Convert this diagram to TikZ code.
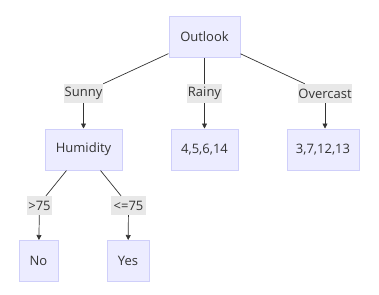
\documentclass[tikz,border=0pt]{standalone}
\usepackage{fontspec}
\setmainfont{Open Sans}
\usetikzlibrary{arrows.meta}
\definecolor{nodefill}{HTML}{ECECFF}
\definecolor{nodeline}{HTML}{CFCFFA}
\definecolor{lblfill}{HTML}{E8E8E8}
\definecolor{txt}{HTML}{333333}
\begin{document}
\begin{tikzpicture}[x=1pt,y=-1pt,
  box/.style={draw=nodeline, fill=nodefill, line width=1pt, text=txt,
    font=\fontsize{13}{15}\selectfont, inner sep=0pt, minimum height=41pt},
  lbl/.style={fill=lblfill, text=txt, font=\fontsize{13}{15}\selectfont,
    inner sep=0pt, minimum height=19pt},
  edge/.style={draw=txt, line width=0.7pt},
  arr/.style={edge, -{Triangle[length=5pt,width=5pt]}}]
\useasboundingbox (0,0) rectangle (379,294);
\node[box, minimum width=71pt] (outlook) at (204.5,37) {Outlook};
\node[box, minimum width=77pt] (hum) at (83.5,149.5) {Humidity};
\node[box, minimum width=67pt] (rainybox) at (204.5,149.5) {4,5,6,14};
\node[box, minimum width=72pt] (overbox) at (323,149.5) {3,7,12,13};
\node[box, minimum width=39pt] (no) at (38.5,261) {No};
\node[box, minimum width=42pt] (yes) at (128,261) {Yes};
\node[lbl, minimum width=39pt] (sunny) at (83.5,93.5) {Sunny};
\node[lbl, minimum width=35pt] (rainy) at (204.5,93.5) {Rainy};
\node[lbl, minimum width=54pt] (overcast) at (325,93.5) {Overcast};
\node[lbl, minimum width=25pt] (gt) at (39.5,205.5) {>75};
\node[lbl, minimum width=35pt] (le) at (128.5,205.5) {<=75};
\draw[edge] (outlook) -- (sunny.north east);
\draw[edge] (outlook) -- (rainy);
\draw[edge] (outlook) -- ([xshift=7pt]overcast.north west);
\draw[edge] (hum) -- ([xshift=6.5pt]gt.north);
\draw[edge] (hum) -- ([xshift=-7.5pt]le.north);
\draw[arr] (sunny) -- (hum);
\draw[arr] (rainy) -- (rainybox);
\draw[arr] (overcast) -- (overcast |- overbox.north);
\draw[arr] (gt) -- (no);
\draw[arr] (le) -- (yes);
\end{tikzpicture}
\end{document}
